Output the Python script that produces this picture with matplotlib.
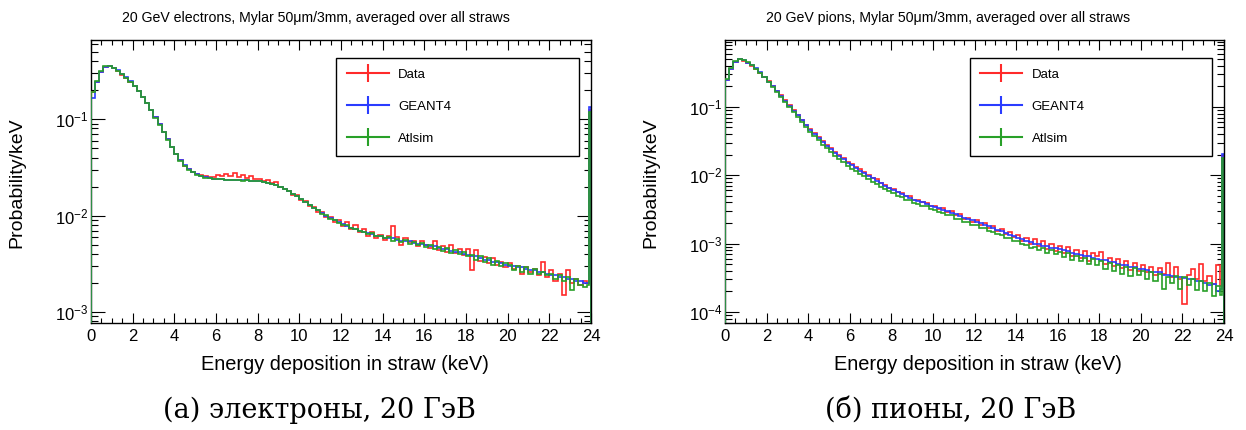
import numpy as np
import matplotlib.pyplot as plt
from matplotlib.lines import Line2D
from matplotlib.ticker import LogLocator, NullFormatter, MultipleLocator

plt.rcParams['font.family'] = ['Liberation Sans', 'DejaVu Sans']
plt.rcParams['mathtext.default'] = 'regular'

# 0.2 keV bins up to 23.8 keV, then 23.8-23.9 and the last 23.9-24.0 bin
# (which collects everything above, hence the spike)
bin_edges = np.append(np.arange(0, 23.8 + 1e-9, 0.2), [23.9, 24.0])
series_labels = ['Data', 'GEANT4', 'Atlsim']
series_colors = ['#ff2a2a', '#2a3cff', '#28a028']

# 20 GeV electrons
el_data = [
    0.19, 0.245, 0.31, 0.35, 0.355, 0.335, 0.312, 0.29, 0.266, 0.243,
    0.219, 0.194, 0.169, 0.146, 0.124, 0.105, 0.089, 0.074, 0.062, 0.051,
    0.0435, 0.0375, 0.0330, 0.0302, 0.0282, 0.0270, 0.0262, 0.0255, 0.0250, 0.0252,
    0.0262, 0.0255, 0.0270, 0.0258, 0.0275, 0.0250, 0.0262, 0.0245, 0.0255, 0.0238,
    0.0240, 0.0230, 0.0236, 0.0218, 0.0222, 0.0200, 0.0190, 0.0182, 0.0165, 0.0162,
    0.0146, 0.0142, 0.0126, 0.0124, 0.0110, 0.0108, 0.0097, 0.0096, 0.0085, 0.0090,
    0.0078, 0.0085, 0.0072, 0.0080, 0.0067, 0.0072, 0.0062, 0.0068, 0.0058, 0.0063,
    0.0056, 0.0062, 0.0078, 0.0060, 0.0050, 0.0058, 0.0053, 0.0055, 0.0048, 0.0054,
    0.0050, 0.0046, 0.0055, 0.0044, 0.0048, 0.0042, 0.0049, 0.0041, 0.0045, 0.0039,
    0.0045, 0.0027, 0.0044, 0.0034, 0.0037, 0.0032, 0.0036, 0.0031, 0.0033, 0.0029,
    0.0032, 0.0028, 0.0030, 0.0025, 0.0029, 0.0026, 0.0028, 0.0024, 0.0033, 0.0023,
    0.0027, 0.0021, 0.0025, 0.0015, 0.0027, 0.0020, 0.0022, 0.0019, 0.0021, 0.0020,
    0.125,
]
el_geant = [
    0.165, 0.24, 0.31, 0.35, 0.357, 0.342, 0.322, 0.297, 0.271, 0.246,
    0.221, 0.196, 0.171, 0.147, 0.124, 0.104, 0.088, 0.074, 0.062, 0.052,
    0.0440, 0.0378, 0.0334, 0.0305, 0.0283, 0.0268, 0.0257, 0.0249, 0.0244, 0.0241,
    0.0239, 0.0237, 0.0236, 0.0236, 0.0235, 0.0234, 0.0233, 0.0232, 0.0231, 0.0229,
    0.0227, 0.0224, 0.0220, 0.0214, 0.0207, 0.0198, 0.0188, 0.0178, 0.0168, 0.0158,
    0.0148, 0.0138, 0.0129, 0.0121, 0.0113, 0.0106, 0.0100, 0.0094, 0.0089, 0.0085,
    0.0081, 0.0078, 0.0075, 0.0072, 0.0070, 0.0068, 0.0066, 0.0064, 0.0062, 0.0061,
    0.0059, 0.0058, 0.0058, 0.0056, 0.0055, 0.0054, 0.0054, 0.0052, 0.0051, 0.0051,
    0.0049, 0.0048, 0.0048, 0.0046, 0.0045, 0.0045, 0.0043, 0.0042, 0.0042, 0.0040,
    0.0039, 0.0038, 0.0038, 0.0036, 0.0035, 0.0035, 0.0033, 0.0033, 0.0032, 0.0031,
    0.0030, 0.0030, 0.0029, 0.0029, 0.0028, 0.0027, 0.0027, 0.0026, 0.0026, 0.0025,
    0.0024, 0.0024, 0.0023, 0.0023, 0.0022, 0.0022, 0.0021, 0.0021, 0.0020, 0.0020,
    0.133,
]
el_atlsim = [
    0.19, 0.25, 0.315, 0.352, 0.358, 0.340, 0.318, 0.294, 0.270, 0.245,
    0.220, 0.195, 0.170, 0.146, 0.123, 0.103, 0.087, 0.073, 0.061, 0.051,
    0.0430, 0.0370, 0.0328, 0.0300, 0.0280, 0.0266, 0.0256, 0.0248, 0.0244, 0.0240,
    0.0237, 0.0238, 0.0233, 0.0236, 0.0232, 0.0235, 0.0231, 0.0233, 0.0229, 0.0230,
    0.0226, 0.0225, 0.0219, 0.0215, 0.0206, 0.0199, 0.0187, 0.0179, 0.0167, 0.0159,
    0.0149, 0.0137, 0.0130, 0.0120, 0.0114, 0.0105, 0.0101, 0.0093, 0.0090, 0.0084,
    0.0080, 0.0079, 0.0074, 0.0073, 0.0069, 0.0068, 0.0065, 0.0066, 0.0061, 0.0062,
    0.0058, 0.0060, 0.0055, 0.0057, 0.0053, 0.0056, 0.0051, 0.0053, 0.0049, 0.0052,
    0.0047, 0.0050, 0.0045, 0.0047, 0.0043, 0.0046, 0.0041, 0.0044, 0.0040, 0.0042,
    0.0038, 0.0039, 0.0035, 0.0038, 0.0033, 0.0036, 0.0031, 0.0034, 0.0030, 0.0032,
    0.0031, 0.0027, 0.0030, 0.0026, 0.0029, 0.0025, 0.0028, 0.0025, 0.0026, 0.0024,
    0.0025, 0.0022, 0.0024, 0.0021, 0.0023, 0.0017, 0.0022, 0.0019, 0.0018, 0.0019,
    0.118,
]

# 20 GeV pions
pi_data = [
    0.25, 0.355, 0.455, 0.495, 0.475, 0.44, 0.40, 0.36, 0.318, 0.274,
    0.236, 0.201, 0.172, 0.147, 0.125, 0.105, 0.090, 0.077, 0.065, 0.055,
    0.0470, 0.0410, 0.0360, 0.0312, 0.0278, 0.0250, 0.0222, 0.0200, 0.0178, 0.0158,
    0.0145, 0.0130, 0.0122, 0.0110, 0.0102, 0.0092, 0.0087, 0.0078, 0.0073, 0.0066,
    0.0062, 0.0057, 0.0055, 0.0050, 0.0049, 0.0044, 0.0044, 0.0040, 0.0039, 0.0036,
    0.0036, 0.0032, 0.0033, 0.0029, 0.0030, 0.0026, 0.0027, 0.0023, 0.0024, 0.0021,
    0.0022, 0.0019, 0.0020, 0.00172, 0.00180, 0.00155, 0.00165, 0.00140, 0.00150, 0.00125,
    0.00135, 0.00110, 0.00122, 0.00100, 0.00115, 0.00092, 0.00108, 0.00084, 0.00100, 0.00078,
    0.00092, 0.00072, 0.00088, 0.00066, 0.00082, 0.00062, 0.00077, 0.00056, 0.00072, 0.00065,
    0.00075, 0.00050, 0.00062, 0.00047, 0.00060, 0.00044, 0.00056, 0.00041, 0.00052, 0.00040,
    0.00048, 0.00038, 0.00046, 0.00035, 0.00044, 0.00036, 0.00052, 0.00033, 0.00045, 0.00030,
    0.00013, 0.00035, 0.00042, 0.00030, 0.00050, 0.00028, 0.00034, 0.00026, 0.00048, 0.00024,
    0.019,
]
pi_geant = [
    0.25, 0.36, 0.46, 0.50, 0.48, 0.445, 0.405, 0.365, 0.32, 0.275,
    0.235, 0.200, 0.170, 0.145, 0.123, 0.103, 0.088, 0.075, 0.064, 0.054,
    0.0465, 0.0405, 0.0352, 0.0305, 0.0272, 0.0242, 0.0214, 0.0191, 0.0171, 0.0153,
    0.0139, 0.0127, 0.0117, 0.0107, 0.0098, 0.0090, 0.0083, 0.0076, 0.0070, 0.0065,
    0.0060, 0.0056, 0.0053, 0.0050, 0.0047, 0.0044, 0.0042, 0.0040, 0.0038, 0.0036,
    0.0034, 0.0033, 0.0031, 0.0030, 0.0028, 0.0027, 0.0025, 0.0024, 0.0023, 0.0022,
    0.0021, 0.0020, 0.0019, 0.0018, 0.00170, 0.00160, 0.00152, 0.00144, 0.00136, 0.00129,
    0.00122, 0.00116, 0.00110, 0.00105, 0.00100, 0.00098, 0.00093, 0.00091, 0.00087, 0.00086,
    0.00083, 0.00080, 0.00078, 0.00074, 0.00071, 0.00069, 0.00066, 0.00065, 0.00061, 0.00060,
    0.00058, 0.00057, 0.00054, 0.00053, 0.00050, 0.00049, 0.00048, 0.00045, 0.00045, 0.00043,
    0.00043, 0.00041, 0.00039, 0.00039, 0.00038, 0.00035, 0.00035, 0.00034, 0.00032, 0.00032,
    0.00031, 0.00030, 0.00030, 0.00028, 0.00028, 0.00027, 0.00025, 0.00026, 0.00020, 0.00022,
    0.0205,
]
pi_atlsim = [
    0.26, 0.37, 0.47, 0.51, 0.49, 0.45, 0.405, 0.36, 0.315, 0.27,
    0.230, 0.195, 0.165, 0.140, 0.118, 0.099, 0.084, 0.071, 0.060, 0.051,
    0.0435, 0.0375, 0.0325, 0.0280, 0.0248, 0.0220, 0.0194, 0.0172, 0.0154, 0.0138,
    0.0125, 0.0114, 0.0105, 0.0096, 0.0088, 0.0081, 0.0075, 0.0068, 0.0064, 0.0058,
    0.0055, 0.0050, 0.0048, 0.0044, 0.0043, 0.0039, 0.0038, 0.0035, 0.0035, 0.0032,
    0.0031, 0.0029, 0.0028, 0.0026, 0.0026, 0.0023, 0.0023, 0.0021, 0.0021, 0.0019,
    0.0019, 0.0017, 0.0017, 0.00155, 0.00150, 0.00138, 0.00135, 0.00122, 0.00120, 0.00108,
    0.00108, 0.00098, 0.00097, 0.00085, 0.00090, 0.00080, 0.00086, 0.00072, 0.00082, 0.00070,
    0.00075, 0.00064, 0.00072, 0.00058, 0.00066, 0.00055, 0.00062, 0.00050, 0.00060, 0.00048,
    0.00055, 0.00042, 0.00052, 0.00040, 0.00048, 0.00036, 0.00046, 0.00034, 0.00044, 0.00035,
    0.00040, 0.00030, 0.00038, 0.00028, 0.00036, 0.00022, 0.00033, 0.00027, 0.00034, 0.00022,
    0.00032, 0.00025, 0.00030, 0.00021, 0.00028, 0.00020, 0.00027, 0.00017, 0.00024, 0.00018,
    0.018,
]

titles = ['20 GeV electrons, Mylar 50\u03bcm/3mm, averaged over all straws',
          '20 GeV pions, Mylar 50\u03bcm/3mm, averaged over all straws']
captions = ['(\u0430) электроны, 20 ГэВ', '(б) пионы, 20 ГэВ']
xlabel = 'Energy deposition in straw (keV)'
ylabel = 'Probability/keV'


def draw_panel(ax, series, ylim):
    for vals, color in zip(series, series_colors):
        # zorder above the left spine so the first bin edge stays visible
        ax.stairs(vals, bin_edges, color=color, lw=1.2, baseline=1e-7, zorder=3)
    # the right spine covers the final drop back to zero
    ax.spines['right'].set_zorder(4)
    ax.set_yscale('log')
    ax.set_xlim(0, 24)
    ax.set_ylim(*ylim)
    ax.xaxis.set_major_locator(MultipleLocator(2))
    ax.xaxis.set_minor_locator(MultipleLocator(0.5))
    ax.yaxis.set_minor_locator(LogLocator(base=10, subs=np.arange(2, 10)))
    ax.yaxis.set_minor_formatter(NullFormatter())
    ax.tick_params(which='both', direction='in', top=True, right=True,
                   width=0.8, labelsize=12)
    ax.tick_params(axis='x', which='major', length=7, pad=4)
    ax.tick_params(axis='x', which='minor', length=3.5)
    ax.tick_params(axis='y', which='major', length=10, pad=2)
    ax.tick_params(axis='y', which='minor', length=5)
    for sp in ax.spines.values():
        sp.set_linewidth(1.0)
    handles = [Line2D([], [], color=c, lw=1.5, marker='|', markersize=13, mew=1.5)
               for c in series_colors]
    leg = ax.legend(handles, series_labels, loc='upper left',
                    bbox_to_anchor=(0.49, 0.59, 0.486, 0.346), mode='expand',
                    fancybox=False, edgecolor='black', framealpha=1, fontsize=9.5,
                    handlelength=3.2, handletextpad=0.7, labelspacing=1.5,
                    borderpad=0.8, borderaxespad=0)
    leg.get_frame().set_linewidth(1.0)
    leg.set_zorder(5)


fig = plt.figure(figsize=(12.46, 4.3), dpi=100)
ax1 = fig.add_axes([0.0730, 0.2488, 0.4013, 0.658])
ax2 = fig.add_axes([0.5819, 0.2488, 0.4005, 0.658])

draw_panel(ax1, [el_data, el_geant, el_atlsim], (7.7e-4, 0.66))
draw_panel(ax2, [pi_data, pi_geant, pi_atlsim], (6.9e-5, 0.95))

W, H = 1246, 430
for i, (tx, lx, cx) in enumerate([(316, 17, 319), (948, 651, 951)]):
    fig.text(tx / W, 1 - 18 / H, titles[i], ha='center', va='center', fontsize=10.2)
    fig.text(lx / W, 1 - 183 / H, ylabel, ha='center', va='center',
             rotation=90, fontsize=14)
    ax_center = [341, 974][i]
    fig.text((ax_center + 4) / W, 1 - 364 / H, xlabel, ha='center', va='center',
             fontsize=14.4)
    fig.text(cx / W, 1 - 410 / H, captions[i], ha='center', va='center',
             fontsize=19.5, family=['DejaVu Serif'])

fig.savefig('out.png', dpi=100)
